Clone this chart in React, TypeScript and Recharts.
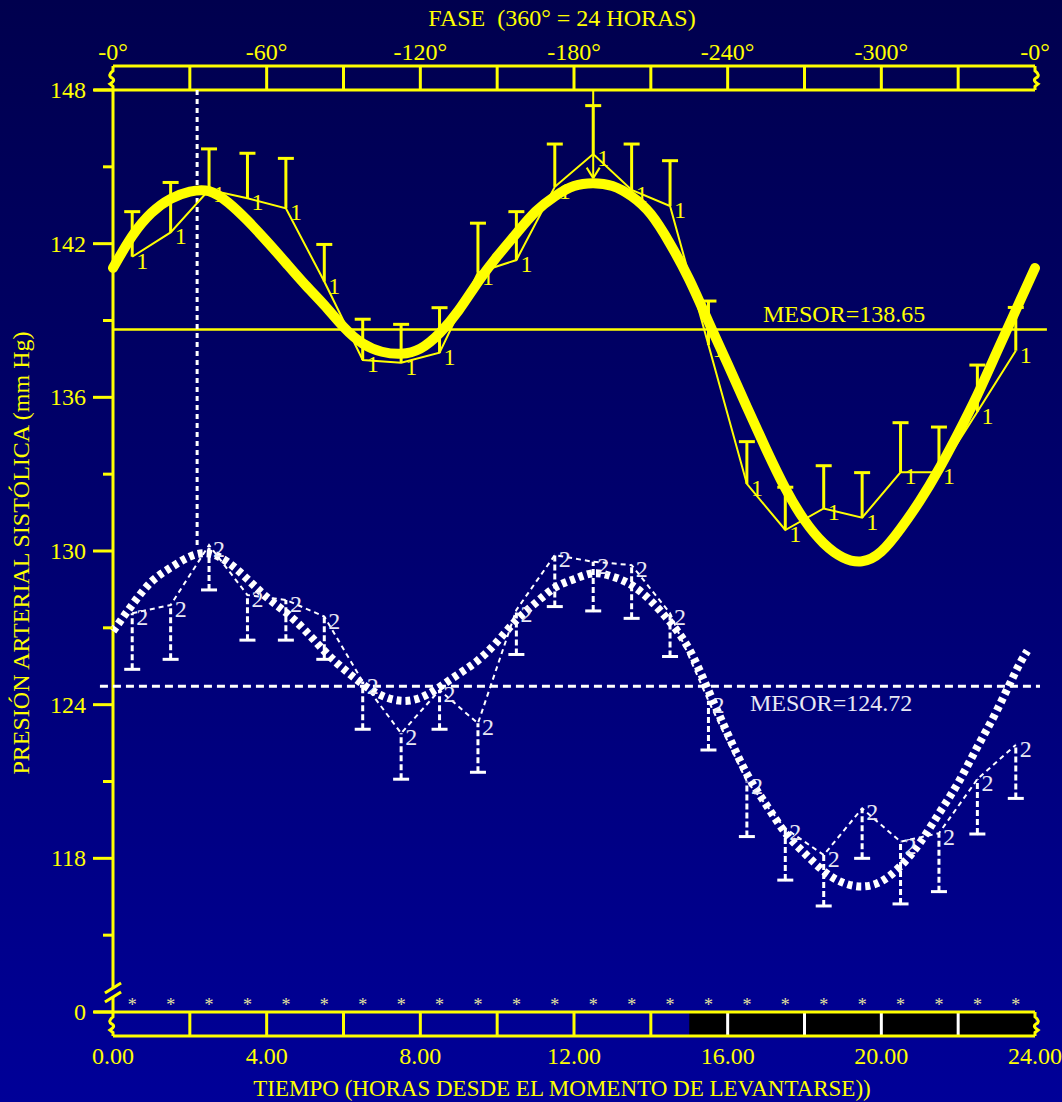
import React from 'react';
import {
  ComposedChart, Line, XAxis, YAxis, ErrorBar, Scatter, ReferenceLine, ReferenceArea, ReferenceDot,
} from 'recharts';

// ---------- data ----------
const HOURS = [0.5, 1.5, 2.5, 3.5, 4.5, 5.5, 6.5, 7.5, 8.5, 9.5, 10.5, 11.5, 12.5, 13.5, 14.5, 15.5, 16.5, 17.5, 18.5, 19.5, 20.5, 21.5, 22.5, 23.5];
const S1_MEAN = [141.49, 142.44, 144.1, 143.77, 143.38, 140.52, 137.46, 137.35, 137.74, 140.87, 141.36, 144.22, 145.5, 144.1, 143.47, 138.04, 132.62, 130.82, 131.66, 131.3, 133.07, 133.07, 135.44, 137.82];
const S1_SE = [1.76, 1.95, 1.6, 1.76, 1.95, 1.45, 1.59, 1.5, 1.76, 1.93, 1.89, 1.67, 1.89, 1.79, 1.77, 1.72, 1.65, 1.67, 1.67, 1.76, 1.94, 1.77, 1.82, 1.69];
const S2_MEAN = [127.57, 127.89, 130.23, 128.28, 128.09, 127.44, 124.9, 122.88, 124.57, 123.27, 127.7, 129.84, 129.58, 129.45, 127.57, 124.15, 121.0, 119.17, 118.13, 119.95, 118.65, 118.98, 121.09, 122.43];
const S2_SE = [2.19, 2.12, 1.75, 1.76, 1.57, 1.67, 1.86, 1.79, 1.53, 1.91, 1.74, 2.01, 1.92, 2.08, 1.69, 1.92, 2.15, 2.02, 1.99, 1.95, 2.43, 2.28, 2.14, 2.09];

const FIT1_HOURS = [0, 0.5, 1, 1.5, 2, 2.5, 3, 3.5, 4, 4.5, 5, 5.5, 6, 6.5, 7, 7.5, 8, 8.5, 9, 9.5, 10, 10.5, 11, 11.5, 12, 12.5, 13, 13.5, 14, 14.5, 15, 15.5, 16, 16.5, 17, 17.5, 18, 18.5, 19, 19.5, 20, 20.5, 21, 21.5, 22, 22.5, 23, 23.5, 24];
const FIT1 = [141.05, 142.3, 143.2, 143.75, 144.03, 144.05, 143.6, 142.9, 142.1, 141.25, 140.4, 139.6, 138.75, 138.1, 137.78, 137.7, 137.9, 138.5, 139.4, 140.5, 141.5, 142.4, 143.25, 143.85, 144.25, 144.36, 144.25, 143.85, 143.15, 142.0, 140.6, 138.95, 137.3, 135.62, 133.98, 132.45, 131.2, 130.3, 129.75, 129.6, 129.98, 130.87, 131.95, 133.2, 134.6, 136.1, 137.75, 139.4, 141.05];
const FIT2_HOURS = [0, 0.5, 1, 1.5, 2, 2.5, 3, 3.5, 4, 4.5, 5, 5.5, 6, 6.5, 7, 7.5, 8, 8.5, 9, 9.5, 10, 10.5, 11, 11.5, 12, 12.5, 13, 13.5, 14, 14.5, 15, 15.5, 16, 16.5, 17, 17.5, 18, 18.5, 19, 19.5, 20, 20.5, 21, 21.5, 22, 22.5, 23, 23.5, 23.8];
const FIT2 = [126.87, 127.9, 128.8, 129.35, 129.78, 129.9, 129.55, 128.9, 128.2, 127.6, 126.9, 126.1, 125.4, 124.8, 124.35, 124.15, 124.27, 124.69, 125.2, 125.73, 126.46, 127.3, 127.97, 128.57, 128.9, 129.13, 129.0, 128.67, 128.05, 127.23, 126.16, 124.55, 122.86, 121.3, 120.1, 119.0, 118.2, 117.5, 117.05, 116.9, 117.1, 117.7, 118.6, 119.75, 120.95, 122.35, 123.75, 125.3, 126.1];

const MESOR1 = 138.65;
const MESOR2 = 124.72;
const ACRO1_HOUR = 12.5;
const ACRO2_HOUR = 2.19;
const STAR_HOURS = HOURS;

const X_TICKS = [0, 4, 8, 12, 16, 20, 24];
const Y_TICKS = [112, 115, 118, 121, 124, 127, 130, 133, 136, 139, 142, 145, 148];
const Y_MAJOR = [148, 142, 136, 130, 124, 118, 112];
const Y_MAJOR_LABELS = ['148', '142', '136', '130', '124', '118', '0'];
const BOX_DIVS = [2, 4, 6, 8, 10, 12, 14, 16, 18, 20, 22];
const NIGHT_START = 15;

// ---------- styling constants ----------
const YELLOW = '#ffff00';
const WHITE = '#ffffff';
const FONT = '"Liberation Serif", "Times New Roman", serif';
const Y_MIN = 112;
const Y_MAX = 148;
const TOP_BOX = 148.94;
const BOT_BOX = 111.06;
const STAR_LEVEL = 112.4;

const s1Data = HOURS.map((h, i) => ({ h, v: S1_MEAN[i], err: [0, S1_SE[i]] }));
const s1Caps = HOURS.map((h, i) => ({ h, v: S1_MEAN[i] + S1_SE[i] }));
const s2Data = HOURS.map((h, i) => ({ h, v: S2_MEAN[i], err: [S2_SE[i], 0] }));
const s2Caps = HOURS.map((h, i) => ({ h, v: S2_MEAN[i] - S2_SE[i] }));
const fit1Data = FIT1_HOURS.map((h, i) => ({ h, v: FIT1[i] }));
const fit2Data = FIT2_HOURS.map((h, i) => ({ h, v: FIT2[i] }));
const starData = STAR_HOURS.map((h) => ({ h, v: STAR_LEVEL }));

const YTick = (props: any) => {
  const { x, y, payload } = props;
  const idx = Y_MAJOR.indexOf(payload.value);
  const major = idx >= 0;
  return (
    <g>
      <line x1={x - (major ? 20 : 10)} x2={x} y1={y} y2={y} stroke={YELLOW} strokeWidth={3} />
      {major && (
        <text x={x - 27} y={y + 8} textAnchor="end" fill={YELLOW} fontSize={24} fontFamily={FONT}>
          {Y_MAJOR_LABELS[idx]}
        </text>
      )}
    </g>
  );
};

const squiggle = (dir: number) => (props: any) => {
  const { x1, y1, y2 } = props;
  if (x1 == null || y1 == null) return <g />;
  const top = Math.min(y1, y2);
  const bot = Math.max(y1, y2);
  const h = bot - top;
  const x = x1;
  const d = `M${x},${top} L${x},${top + h * 0.2} Q${x - 6 * dir},${top + h * 0.4} ${x - 1 * dir},${top + h * 0.5} Q${x + 3 * dir},${top + h * 0.6} ${x - 3 * dir},${top + h * 0.75} L${x},${top + h * 0.85} L${x},${bot}`;
  return <path d={d} stroke={YELLOW} strokeWidth={3} fill="none" />;
};

const capShape = (color: string) => (props: any) => {
  const { cx, cy } = props;
  if (cx == null) return <g />;
  return <line x1={cx - 8} x2={cx + 8} y1={cy} y2={cy} stroke={color} strokeWidth={3} />;
};

const starShape = (props: any) => {
  const { cx, cy } = props;
  if (cx == null) return <g />;
  return (
    <text x={cx} y={cy + 9} textAnchor="middle" fill="#e4e4a0" fontSize={18} fontFamily={FONT}>*</text>
  );
};

const pointLabel = (txt: string, color: string) => (props: any) => {
  const { x, y, index } = props;
  if (x == null) return <g />;
  return (
    <text key={`${txt}-${index}`} x={x + 4} y={y + 12} fill={color} fontSize={24} fontFamily={FONT}>{txt}</text>
  );
};

const textShape = (txt: string, color: string, dx: number, dy: number) => (props: any) => {
  const { cx, cy } = props;
  if (cx == null) return <g />;
  return <text x={cx + dx} y={cy + dy} fill={color} fontSize={24} fontFamily={FONT}>{txt}</text>;
};

export default function App() {
  return (
    <div
      style={{
        position: 'absolute', left: 0, top: 0, width: 1062, height: 1102,
        background: 'linear-gradient(to bottom, #00004e 0%, #000070 50%, #000098 100%)',
        fontFamily: FONT,
      }}
    >
      <ComposedChart width={1062} height={1102} margin={{ top: 60, right: 27, bottom: 60, left: 53 }}>
        <XAxis
          xAxisId="top" orientation="top" type="number" dataKey="h" domain={[0, 24]} allowDataOverflow
          ticks={X_TICKS} interval={0} tickSize={0} tickMargin={30} axisLine={false} tickLine={false} height={30}
          tickFormatter={(h: number) => `-${(h * 15) % 360}°`}
          tick={{ fill: YELLOW, fontSize: 24, fontFamily: FONT }}
        />
        <XAxis
          type="number" dataKey="h" domain={[0, 24]} ticks={X_TICKS} interval={0} tickSize={0} tickMargin={35}
          axisLine={false} tickLine={false} height={30}
          tickFormatter={(h: number) => h.toFixed(2)}
          tick={{ fill: YELLOW, fontSize: 24, fontFamily: FONT }}
        />
        <YAxis
          type="number" dataKey="v" domain={[Y_MIN, Y_MAX]} ticks={Y_TICKS} interval={0} width={60}
          tickSize={0} tickMargin={0} axisLine={false} tickLine={false} tick={<YTick />}
        />

        {/* bottom time box */}
        <ReferenceArea x1={NIGHT_START} x2={24} y1={BOT_BOX} y2={Y_MIN} ifOverflow="visible" fill="#000000" fillOpacity={1} stroke="none" />
        {BOX_DIVS.map((h) => (
          <ReferenceLine key={`bd${h}`} segment={[{ x: h, y: BOT_BOX }, { x: h, y: Y_MIN }]} ifOverflow="visible"
            stroke={h > NIGHT_START ? WHITE : YELLOW} strokeWidth={3} />
        ))}
        <ReferenceLine segment={[{ x: 0, y: BOT_BOX }, { x: 24, y: BOT_BOX }]} ifOverflow="visible" stroke={YELLOW} strokeWidth={3} />
        <ReferenceLine segment={[{ x: -0.5, y: Y_MIN }, { x: 24, y: Y_MIN }]} ifOverflow="visible" stroke={YELLOW} strokeWidth={3} />
        <ReferenceLine segment={[{ x: 0, y: BOT_BOX }, { x: 0, y: Y_MIN }]} ifOverflow="visible" shape={squiggle(1)} />
        <ReferenceLine segment={[{ x: 24, y: BOT_BOX }, { x: 24, y: Y_MIN }]} ifOverflow="visible" shape={squiggle(-1)} />

        {/* top phase box */}
        {BOX_DIVS.map((h) => (
          <ReferenceLine key={`td${h}`} segment={[{ x: h, y: Y_MAX }, { x: h, y: TOP_BOX }]} ifOverflow="visible" stroke={YELLOW} strokeWidth={3} />
        ))}
        <ReferenceLine segment={[{ x: 0, y: TOP_BOX }, { x: 24, y: TOP_BOX }]} ifOverflow="visible" stroke={YELLOW} strokeWidth={3} />
        <ReferenceLine segment={[{ x: -0.5, y: Y_MAX }, { x: 24, y: Y_MAX }]} ifOverflow="visible" stroke={YELLOW} strokeWidth={3} />
        <ReferenceLine segment={[{ x: 0, y: Y_MAX }, { x: 0, y: TOP_BOX }]} ifOverflow="visible" shape={squiggle(1)} />
        <ReferenceLine segment={[{ x: 24, y: Y_MAX }, { x: 24, y: TOP_BOX }]} ifOverflow="visible" shape={squiggle(-1)} />

        {/* y axis line with break */}
        <ReferenceLine segment={[{ x: 0, y: Y_MIN }, { x: 0, y: 112.59 }]} ifOverflow="visible" stroke={YELLOW} strokeWidth={3} />
        <ReferenceLine segment={[{ x: 0, y: 112.94 }, { x: 0, y: Y_MAX }]} ifOverflow="visible" stroke={YELLOW} strokeWidth={3} />
        <ReferenceLine segment={[{ x: -0.21, y: 112.74 }, { x: 0.21, y: 113.13 }]} ifOverflow="visible" stroke={YELLOW} strokeWidth={3} />
        <ReferenceLine segment={[{ x: -0.21, y: 112.39 }, { x: 0.21, y: 112.78 }]} ifOverflow="visible" stroke={YELLOW} strokeWidth={3} />

        {/* MESOR lines */}
        <ReferenceLine segment={[{ x: 0, y: MESOR1 }, { x: 24.31, y: MESOR1 }]} ifOverflow="visible" stroke={YELLOW} strokeWidth={2.5} />
        <ReferenceLine segment={[{ x: -0.34, y: MESOR2 }, { x: 24.13, y: MESOR2 }]} ifOverflow="visible" stroke={WHITE} strokeWidth={3} strokeDasharray="8 5" />

        {/* acrophase markers */}
        <ReferenceLine segment={[{ x: ACRO2_HOUR, y: Y_MAX }, { x: ACRO2_HOUR, y: 130.23 }]} ifOverflow="visible" stroke={WHITE} strokeWidth={3} strokeDasharray="5 4" />
        <ReferenceLine segment={[{ x: ACRO1_HOUR, y: Y_MAX }, { x: ACRO1_HOUR, y: 144.56 }]} ifOverflow="visible" stroke={YELLOW} strokeWidth={2} />
        <ReferenceLine segment={[{ x: ACRO1_HOUR - 0.17, y: 144.97 }, { x: ACRO1_HOUR, y: 144.56 }]} ifOverflow="visible" stroke={YELLOW} strokeWidth={2} />
        <ReferenceLine segment={[{ x: ACRO1_HOUR + 0.17, y: 144.97 }, { x: ACRO1_HOUR, y: 144.56 }]} ifOverflow="visible" stroke={YELLOW} strokeWidth={2} />

        {/* series 1 data */}
        <Line data={s1Data} dataKey="v" stroke={YELLOW} strokeWidth={2} dot={false} isAnimationActive={false}
          label={pointLabel('1', YELLOW)}>
          <ErrorBar dataKey="err" width={0} stroke={YELLOW} strokeWidth={3} direction="y" />
        </Line>
        <Scatter data={s1Caps} dataKey="v" shape={capShape(YELLOW)} isAnimationActive={false} />

        {/* series 2 data */}
        <Line data={s2Data} dataKey="v" stroke={WHITE} strokeWidth={2} strokeDasharray="5 4" dot={false} isAnimationActive={false}
          label={pointLabel('2', '#e8e8f4')}>
          <ErrorBar dataKey="err" width={0} stroke={WHITE} strokeWidth={3} strokeDasharray="6 3" direction="y" />
        </Line>
        <Scatter data={s2Caps} dataKey="v" shape={capShape(WHITE)} isAnimationActive={false} />

        {/* significance stars */}
        <Scatter data={starData} dataKey="v" shape={starShape} isAnimationActive={false} />

        {/* fitted curves */}
        <Line data={fit1Data} dataKey="v" type="natural" stroke={YELLOW} strokeWidth={10} strokeLinecap="round" dot={false} isAnimationActive={false} />
        <Line data={fit2Data} dataKey="v" type="natural" stroke={WHITE} strokeWidth={8} strokeDasharray="5 4" dot={false} isAnimationActive={false} />

        {/* MESOR labels */}
        <ReferenceDot x={16.92} y={MESOR1} ifOverflow="visible" shape={textShape('MESOR=138.65', YELLOW, 0, -7)} />
        <ReferenceDot x={16.58} y={MESOR2} ifOverflow="visible" shape={textShape('MESOR=124.72', '#e8e8f4', 0, 25)} />
      </ComposedChart>

      <svg width={1062} height={1102} style={{ position: 'absolute', left: 0, top: 0, pointerEvents: 'none' }}>
        <text x={562} y={26} textAnchor="middle" fill={YELLOW} fontSize={24} fontFamily={FONT} xmlSpace="preserve">FASE  (360° = 24 HORAS)</text>
        <text x={562} y={1096} textAnchor="middle" fill={YELLOW} fontSize={23} fontFamily={FONT}>TIEMPO (HORAS DESDE EL MOMENTO DE LEVANTARSE))</text>
        <text x={29} y={553} textAnchor="middle" fill={YELLOW} fontSize={24} fontFamily={FONT} transform="rotate(-90 29 553)">PRESIÓN ARTERIAL SISTÓLICA (mm Hg)</text>
      </svg>
    </div>
  );
}
